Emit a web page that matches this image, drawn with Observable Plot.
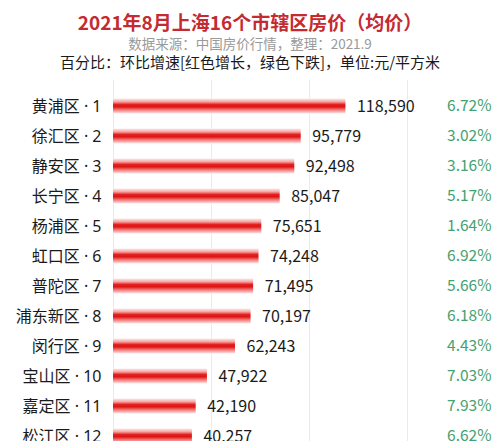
<!DOCTYPE html>
<html>
<head>
<meta charset="utf-8">
<script src="https://cdn.jsdelivr.net/npm/d3@7"></script>
<script src="https://cdn.jsdelivr.net/npm/@observablehq/plot@0.6"></script>
<style>
  html, body { margin: 0; padding: 0; background: #fff; overflow: hidden; }
  body { width: 500px; font-family: "Noto Sans CJK SC", "Noto Sans", sans-serif; }
  #header { position: relative; height: 80px; width: 500px; }
  #header div { position: absolute; left: 0; width: 500px; text-align: center; white-space: nowrap; }
  #title { top: 9px; font-size: 19px; line-height: 26px; font-weight: bold; color: #c42a31; }
  #sub { top: 34px; font-size: 13.5px; line-height: 18px; color: #9a9a9a; }
  #sub2 { top: 52px; font-size: 15px; line-height: 20px; color: #1a1a1a; }
</style>
</head>
<body>
<div id="header">
  <div id="title">2021年8月上海16个市辖区房价（均价）</div>
  <div id="sub">数据来源：中国房价行情，整理：2021.9</div>
  <div id="sub2">百分比：环比增速[红色增长，绿色下跌]，单位:元/平方米</div>
</div>
<div id="chart"></div>
<script>
const districts = ["黄浦区", "徐汇区", "静安区", "长宁区", "杨浦区", "虹口区", "普陀区", "浦东新区", "闵行区", "宝山区", "嘉定区", "松江区"];
const ranks = [1, 2, 3, 4, 5, 6, 7, 8, 9, 10, 11, 12];
const prices = [118590, 95779, 92498, 85047, 75651, 74248, 71495, 70197, 62243, 47922, 42190, 40257];
const growth = ["6.72%", "3.02%", "3.16%", "5.17%", "1.64%", "6.92%", "5.66%", "6.18%", "4.43%", "7.03%", "7.93%", "6.62%"];
const gridTicks = [0, 50000, 100000, 150000];

const rows = districts.map((d, i) => ({
  label: `${d} · ${ranks[i]}`,
  price: prices[i],
  pct: growth[i]
}));

const chart = Plot.plot({
  width: 500,
  height: 372,
  marginTop: 10,
  marginBottom: 0,
  marginLeft: 113,
  marginRight: 93,
  style: { fontFamily: "\"Noto Sans CJK SC\", \"Noto Sans\", sans-serif", background: "#fff" },
  x: { domain: [0, 150000], axis: null },
  y: { domain: rows.map(d => d.label), padding: 0, axis: null },
  marks: [
    Plot.ruleX(gridTicks, { stroke: "#ebebeb", strokeWidth: 1, insetTop: -10 }),
    Plot.barX(rows, {
      x: "price",
      y: "label",
      fill: "url(#barGrad)",
      insetTop: 7.5,
      insetBottom: 7.5
    }),
    Plot.text(rows, {
      x: 0,
      y: "label",
      text: "label",
      textAnchor: "end",
      dx: -12,
      fontSize: 16,
      fontFamily: "\"Noto Sans\", \"Noto Sans CJK SC\", sans-serif",
      fill: "#1a1a1a"
    }),
    Plot.text(rows, {
      x: "price",
      y: "label",
      text: d => d3.format(",")(d.price),
      textAnchor: "start",
      dx: 11,
      fontSize: 16,
      fill: "#1a1a1a"
    }),
    Plot.text(rows, {
      y: "label",
      frameAnchor: "right",
      text: "pct",
      textAnchor: "end",
      dx: 84,
      fontSize: 15.5,
      fill: "#44a172"
    })
  ]
});

// gradient for the tube-like bars
const svg = d3.select(chart);
const defs = svg.insert("defs", ":first-child");
const grad = defs.append("linearGradient")
  .attr("id", "barGrad")
  .attr("x1", 0).attr("y1", 0).attr("x2", 0).attr("y2", 1);
[
  [0, "#fdeaea"],
  [0.22, "#f5a3a3"],
  [0.40, "#e3211f"],
  [0.55, "#dd1414"],
  [0.72, "#ee6a6a"],
  [1, "#fde6e6"]
].forEach(([o, c]) => grad.append("stop").attr("offset", o).attr("stop-color", c));

document.getElementById("chart").appendChild(chart);
</script>
</body>
</html>
